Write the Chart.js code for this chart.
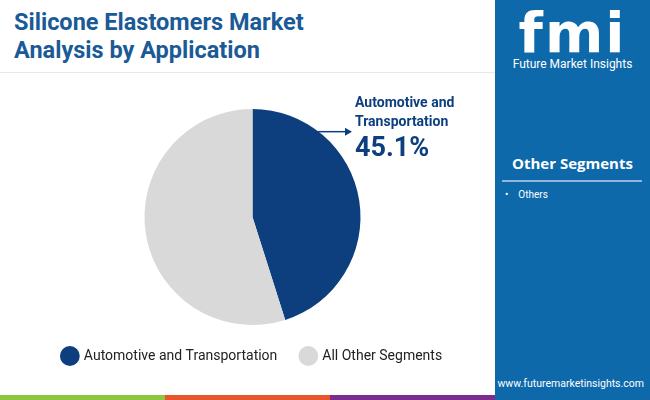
<!DOCTYPE html>
<html>
<head>
<meta charset="utf-8">
<script src="https://cdn.jsdelivr.net/npm/chart.js@4.4.1/dist/chart.umd.min.js"></script>
<style>
  body { margin: 0; width: 650px; height: 400px; overflow: hidden; font-family: Roboto, sans-serif; background: #fff; position: relative; }
  .title { position: absolute; left: 14px; top: 8px; font: 700 23.5px Roboto, sans-serif; color: #1a5a96; line-height: 28px; }
  .panel { position: absolute; left: 495px; top: 0; width: 155px; height: 400px; background: #0e69ab; color: #fff; }
  .logo { position: absolute; left: 0; width: 155px; top: 0px; text-align: center; font: 900 56px "DejaVu Sans", sans-serif; letter-spacing: 2px; }
  .logo-sub { position: absolute; left: 0; width: 155px; top: 57px; text-align: center; font: 400 12px Roboto, sans-serif; }
  .seg-title { position: absolute; left: 0; width: 155px; top: 153px; text-align: center; font: 700 15px "Open Sans", sans-serif; }
  .seg-line { position: absolute; left: 7px; width: 140px; top: 180px; height: 2px; background: #8fb6d9; }
  .seg-item { position: absolute; left: 10px; top: 189px; font: 400 10px Roboto, sans-serif; }
  .url { position: absolute; right: 6px; top: 377px; font: 400 10.5px Roboto, sans-serif; }
  .topline { position: absolute; left: 0; width: 495px; top: 72px; height: 1px; background: #e8e8e8; }
  .strip { position: absolute; top: 395px; height: 5px; }
  .callout { position: absolute; left: 355px; top: 93px; color: #0d3f7f; font-weight: 700; }
  #wrap { position: absolute; left: 5px; top: 100px; width: 495px; height: 280px; }
</style>
</head>
<body>
<div class="title">Silicone Elastomers Market<br>Analysis by Application</div>
<div class="topline"></div>
<div id="wrap"><canvas id="pie"></canvas></div>
<div class="callout"><div style="font-size:14px;line-height:19px">Automotive and<br>Transportation</div><div id="pct" style="font-size:27px;line-height:32px"></div></div>
<div class="panel">
  <div class="logo">fmi</div>
  <div class="logo-sub">Future Market Insights</div>
  <div class="seg-title">Other Segments</div>
  <div class="seg-line"></div>
  <div class="seg-item">&bull;&nbsp;&nbsp;&nbsp;&nbsp;Others</div>
  <div class="url">www.futuremarketinsights.com</div>
</div>
<div class="strip" style="left:0;width:165px;background:#8dc63f"></div>
<div class="strip" style="left:165px;width:165px;background:#e8552a"></div>
<div class="strip" style="left:330px;width:165px;background:#7b2d8e"></div>
<script>
const categories = ["Automotive and Transportation", "All Other Segments"];
const shares = [45.1, 54.9];
const colors = ["#0d3f7f", "#d9d9d9"];

document.getElementById("pct").textContent = shares[0] + "%";

const arrowPlugin = {
  id: "arrow",
  afterDraw(chart) {
    const ctx = chart.ctx;
    const arc = chart.getDatasetMeta(0).data[0];
    const y = arc.y - arc.outerRadius * 0.79;
    const x0 = arc.x + arc.outerRadius * 0.6;
    const x1 = 347;
    ctx.save();
    ctx.strokeStyle = "#0d3f7f";
    ctx.fillStyle = "#0d3f7f";
    ctx.lineWidth = 1.5;
    ctx.beginPath(); ctx.moveTo(x0, y); ctx.lineTo(x1 - 6, y); ctx.stroke();
    ctx.beginPath(); ctx.moveTo(x1, y); ctx.lineTo(x1 - 7, y - 4); ctx.lineTo(x1 - 7, y + 4); ctx.closePath(); ctx.fill();
    ctx.restore();
  }
};

new Chart(document.getElementById("pie"), {
  type: "pie",
  data: {
    labels: categories,
    datasets: [{ data: shares, backgroundColor: colors, borderWidth: 0 }]
  },
  options: {
    responsive: true,
    maintainAspectRatio: false,
    animation: false,
    layout: { padding: { top: 9, bottom: 7 } },
    plugins: {
      tooltip: { enabled: false },
      legend: {
        position: "bottom",
        labels: {
          usePointStyle: true,
          pointStyle: "circle",
          boxWidth: 20,
          boxHeight: 20,
          padding: 24,
          color: "#222",
          font: { family: "Roboto", size: 14 }
        }
      }
    }
  },
  plugins: [arrowPlugin]
});
</script>
</body>
</html>
